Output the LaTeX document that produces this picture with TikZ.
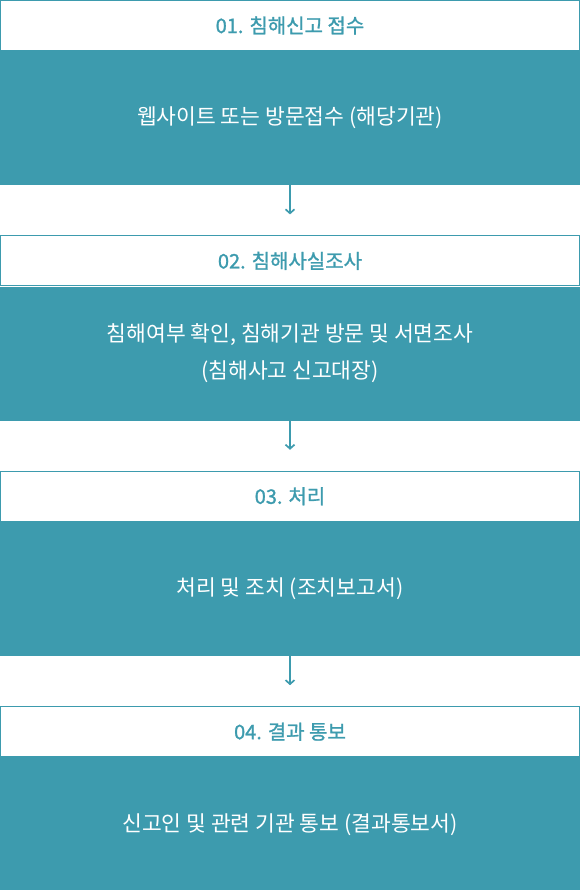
\documentclass[tikz,border=0pt]{standalone}
\usepackage{fontspec}
\usepackage{tikz}
\usetikzlibrary{arrows.meta,positioning}
\usepackage{xcolor}
\definecolor{stageteal}{RGB}{61,155,174}
\newfontfamily\krfont{Noto Sans CJK KR}
\newfontfamily\krhead[FakeBold=1.2]{Noto Sans CJK KR}

\begin{document}
\begin{tikzpicture}[>={Straight Barb[length=4pt,width=9pt]},node distance=0pt and 0pt,x=1pt,y=1pt]
\tikzstyle{stagehead}=[draw=stageteal,line width=1pt,fill=white,text=stageteal,minimum width=579pt,minimum height=50pt,inner sep=0pt,font=\krhead\fontsize{20}{24}\selectfont]
\tikzstyle{stagebody}=[fill=stageteal,text=white,align=center,minimum width=580pt,minimum height=134pt,inner sep=0pt,font=\krfont\fontsize{21.5}{37}\selectfont]
\tikzstyle{stepflow}=[->,stageteal,line width=1.7pt]
\useasboundingbox (0,0) rectangle (580,-890);

\node[stagehead] (h1) at (290,-25.5) {01. 침해신고 접수};
\node[stagebody,below=of h1] (b1) {웹사이트 또는 방문접수 (해당기관)};
\node[stagehead,below=50pt of b1] (h2) {02. 침해사실조사};
\node[stagebody,below=of h2] (b2) {침해여부 확인, 침해기관 방문 및 서면조사\\(침해사고 신고대장)};
\node[stagehead,below=50pt of b2] (h3) {03. 처리};
\node[stagebody,below=of h3] (b3) {처리 및 조치 (조치보고서)};
\node[stagehead,below=50pt of b3] (h4) {04. 결과 통보};
\node[stagebody,below=of h4] (b4) {신고인 및 관련 기관 통보 (결과통보서)};

\coordinate[below=29pt of b1] (t1); \coordinate[below=29pt of b2] (t2); \coordinate[below=29pt of b3] (t3);
\draw[stepflow] (b1)--(t1); \draw[stepflow] (b2)--(t2); \draw[stepflow] (b3)--(t3);
\end{tikzpicture}
\end{document}
